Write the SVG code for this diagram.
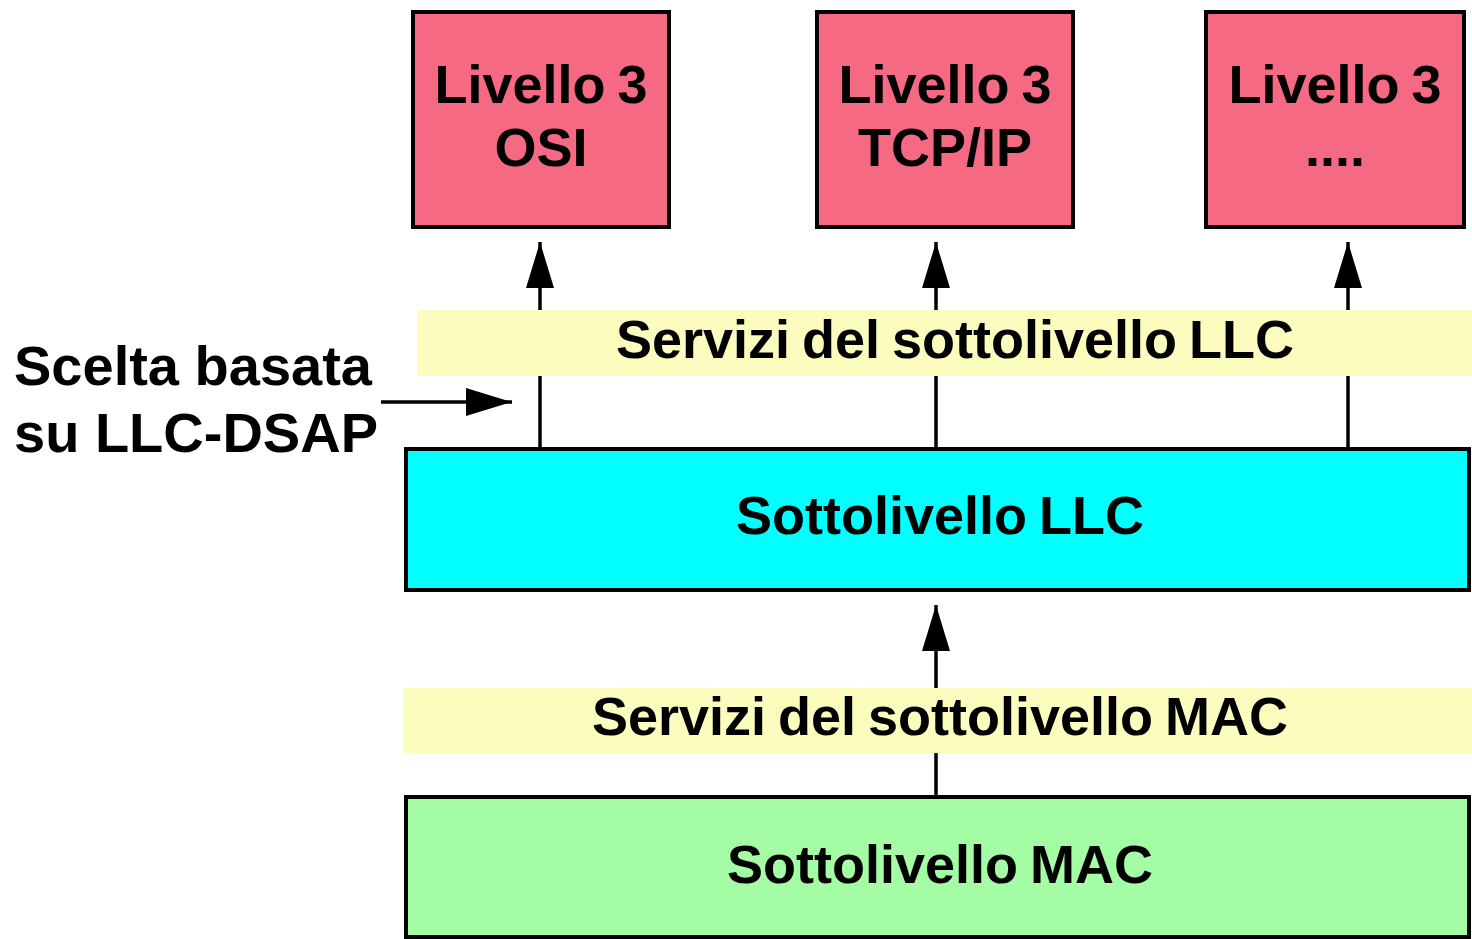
<svg xmlns="http://www.w3.org/2000/svg" width="1472" height="939" viewBox="0 0 1472 939">
<defs>
<style>
text{font-family:"Liberation Sans",Arial,sans-serif;font-weight:bold;fill:#000;}
.t{font-size:54px;text-anchor:middle;word-spacing:-3px;}
.l3{fill:#f56982;stroke:#000;stroke-width:4;}
.band{fill:#fcfcbe;}
.wire{stroke:#000;stroke-width:3.5;fill:none;}
</style>
<marker id="ah" viewBox="0 0 46 28" refX="46" refY="14" markerWidth="46" markerHeight="28" markerUnits="userSpaceOnUse" orient="auto">
<path d="M0,0 L46,14 L0,28 Z" fill="#000"/>
</marker>
</defs>
<rect width="1472" height="939" fill="#fff"/>
<g id="connectors">
<line class="wire" x1="540" y1="447" x2="540" y2="242" marker-end="url(#ah)"/>
<line class="wire" x1="936" y1="447" x2="936" y2="242" marker-end="url(#ah)"/>
<line class="wire" x1="1348" y1="447" x2="1348" y2="242" marker-end="url(#ah)"/>
<line class="wire" x1="936" y1="795" x2="936" y2="605" marker-end="url(#ah)"/>
<line class="wire" x1="381" y1="402" x2="512" y2="402" marker-end="url(#ah)"/>
</g>
<g id="band-llc"><rect class="band" x="417" y="310" width="1055" height="66"/><text class="t" x="955" y="358">Servizi del sottolivello LLC</text></g>
<g id="band-mac"><rect class="band" x="403" y="688" width="1069" height="65"/><text class="t" x="940" y="735">Servizi del sottolivello MAC</text></g>
<g id="l3-osi"><rect class="l3" x="413" y="12" width="256" height="215"/><text class="t" x="541" y="103">Livello 3</text><text class="t" x="541" y="166">OSI</text></g>
<g id="l3-tcpip"><rect class="l3" x="817" y="12" width="256" height="215"/><text class="t" x="945" y="103">Livello 3</text><text class="t" x="945" y="166">TCP/IP</text></g>
<g id="l3-other"><rect class="l3" x="1206" y="12" width="258" height="215"/><text class="t" x="1335" y="103">Livello 3</text><text class="t" x="1335" y="166">....</text></g>
<g id="llc"><rect x="406" y="449" width="1063" height="141" fill="#00ffff" stroke="#000" stroke-width="4"/><text class="t" x="940" y="534">Sottolivello LLC</text></g>
<g id="mac"><rect x="406" y="797" width="1063" height="140" fill="#a4fca4" stroke="#000" stroke-width="4"/><text class="t" x="940" y="883">Sottolivello MAC</text></g>
<g id="note"><text x="14" y="385" font-size="56">Scelta basata</text><text x="14" y="452" font-size="56">su LLC-DSAP</text></g>
</svg>
